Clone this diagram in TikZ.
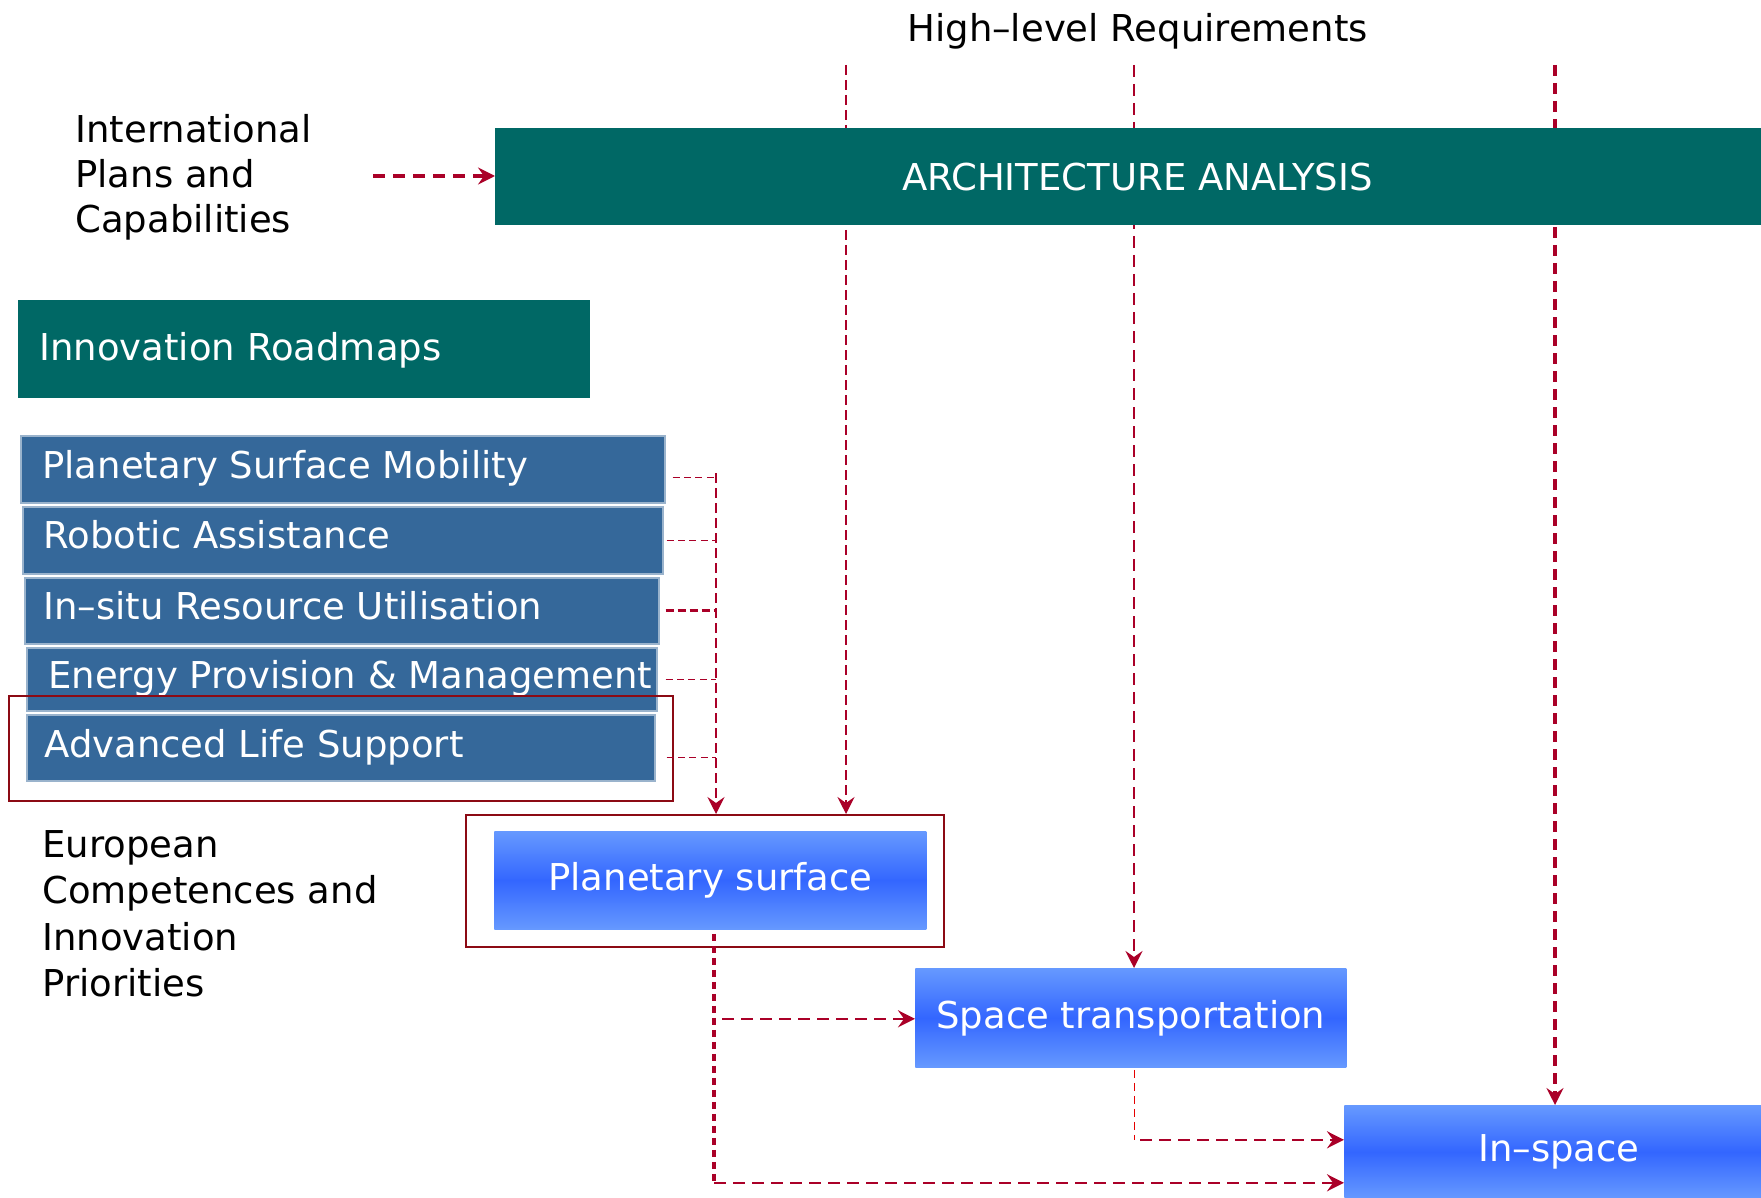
\documentclass[tikz,border=0pt]{standalone}
\usepackage{fontspec}
\setmainfont{DejaVu Sans}
\usetikzlibrary{arrows.meta}
\definecolor{tealbox}{RGB}{0,104,101}
\definecolor{boxblue}{RGB}{53,104,154}
\definecolor{myred}{RGB}{170,0,40}
\definecolor{framered}{RGB}{140,10,20}
\definecolor{gradlight}{RGB}{102,153,255}
\definecolor{graddark}{RGB}{51,102,255}
\begin{document}
\begin{tikzpicture}[x=0.5pt,y=-0.5pt,
  font=\fontsize{18.5}{23}\selectfont,
  box/.style={rectangle, inner sep=0pt, anchor=north west},
  teal box/.style={box, fill=tealbox, text=white},
  rm box/.style={box, fill=boxblue, draw=boxblue!50!white, line width=0.8pt},
  grad box/.style={box, top color=gradlight, bottom color=gradlight, middle color=graddark, text=white},
  lbl/.style={anchor=base west, inner sep=0pt},
  wlbl/.style={lbl, text=white},
  redframe/.style={box, draw=framered, line width=1pt},
  arrowed/.style={-{Stealth[length=8.5pt,width=8.5pt,inset=3pt]}},
  thin link/.style={draw=myred, line width=0.6pt, dash pattern=on 3.5pt off 2.2pt},
  long thin link/.style={draw=myred, line width=0.65pt, dash pattern=on 5pt off 2.5pt},
  mid link/.style={draw=myred, line width=1.3pt, dash pattern=on 6pt off 3.5pt},
  thick link/.style={draw=myred, line width=1.6pt, dash pattern=on 5.5pt off 3.5pt},
]
\useasboundingbox (0,0) rectangle (1761,1198);
\fill[white] (0,0) rectangle (1761,1198);

% texts
\node[lbl] (hlr) at (907,42) {High--level Requirements};
\node[box, align=left, font=\fontsize{18.5}{22.5}\selectfont] (intl) at (75,114) {International\\Plans and\\Capabilities};
\node[box, align=left, font=\fontsize{18.5}{23.2}\selectfont] (euro) at (42,830) {European\\Competences and\\Innovation\\Priorities};

% innovation roadmaps
\node[teal box, minimum width=286pt, minimum height=49pt] (innov) at (18,300) {};
\node[wlbl] (innovT) at (39,360) {Innovation Roadmaps};

\node[rm box, minimum width=322pt, minimum height=33.5pt] (psm) at (20,435) {};
\node[rm box, minimum width=320pt, minimum height=33.5pt] (ra) at (22,506) {};
\node[rm box, minimum width=317pt, minimum height=33pt] (isru) at (24,577) {};
\node[rm box, minimum width=315pt, minimum height=31.5pt] (epm) at (26,647) {};
\node[rm box, minimum width=314pt, minimum height=33pt] (als) at (26,714) {};
\node[wlbl] (psmT) at (42,478) {Planetary Surface Mobility};
\node[wlbl] (raT) at (43,548) {Robotic Assistance};
\node[wlbl] (isruT) at (43,619) {In--situ Resource Utilisation};
\node[wlbl] (epmT) at (48,688) {Energy Provision \& Management};
\node[wlbl] (alsT) at (44,757) {Advanced Life Support};
\node[redframe, minimum width=332pt, minimum height=52.5pt] (alsframe) at (8,695) {};

% lower architecture boxes
\node[redframe, minimum width=239pt, minimum height=66pt] (psframe) at (465,814) {};
\node[grad box, minimum width=216pt, minimum height=49pt] (ps) at (494,831) {Planetary surface};
\node[grad box, minimum width=215.5pt, minimum height=49.5pt] (st) at (915,968) {Space transportation};
\node[grad box, minimum width=208.5pt, minimum height=46.5pt] (insp) at (1344,1105) {\hspace*{6pt}In--space};

% roadmap connectors
\coordinate (busTop) at (716,473);
\path ([xshift=3.5pt,yshift=-4.25pt]psm.east) coordinate (psmOut);
\path ([xshift=1.5pt]ra.east) coordinate (raOut);
\path ([xshift=3pt]isru.east) coordinate (isruOut);
\path ([xshift=4pt]epm.east) coordinate (epmOut);
\path ([xshift=5.5pt,yshift=-5pt]als.east) coordinate (alsOut);
\draw[thin link] (psmOut) -- (psmOut -| busTop);
\draw[thin link] (raOut) -- (raOut -| busTop);
\draw[draw=myred, line width=1.5pt, dash pattern=on 4pt off 2pt] (isruOut) -- (isruOut -| busTop);
\draw[thin link] (epmOut) -- (epmOut -| busTop);
\draw[thin link] (alsOut) -- (alsOut -| busTop);
\draw[long thin link, arrowed] (busTop) -- (busTop |- psframe.north);

% high-level requirement lines
\coordinate (hlA) at (846,65);
\coordinate (hlB) at (1134,65);
\coordinate (hlC) at (1555,65);
\draw[long thin link, arrowed] (hlA) -- (hlA |- psframe.north);
\draw[mid link, arrowed] (hlB) -- (hlB |- st.north);
\draw[thick link, arrowed] (hlC) -- (hlC |- insp.north);

% architecture analysis
\node[teal box, minimum width=633pt, minimum height=48.5pt] (arch) at (495,128) {\hspace*{9pt}ARCHITECTURE ANALYSIS};
\coordinate (intlOut) at (373,176);
\draw[draw=myred, line width=1.7pt, dash pattern=on 6pt off 4pt, arrowed] (intlOut) -- (intlOut -| arch.west);

% flows between architecture elements
\path ([xshift=2pt,yshift=-2pt]ps.south) coordinate (psDown);
\path (psDown) ++(0,249) coordinate (psCorner);
\path (psDown) ++(0,85) coordinate (psBranch);
\draw[draw=myred, line width=2pt, dash pattern=on 3.5pt off 2.5pt] (psDown) -- (psCorner);
\draw[mid link, arrowed] (psCorner) -- (psCorner -| insp.west);
\draw[mid link, arrowed] ([xshift=4pt]psBranch) -- (psBranch -| st.west);

\path ([xshift=1.75pt,yshift=-1pt]st.south) coordinate (stDown);
\path (stDown) ++(0,70) coordinate (stCorner);
\draw[draw=red!90!black, line width=0.7pt, dash pattern=on 4pt off 2.5pt] (stDown) -- (stCorner);
\draw[mid link, arrowed] ([xshift=3pt]stCorner) -- (stCorner -| insp.west);
\end{tikzpicture}
\end{document}
